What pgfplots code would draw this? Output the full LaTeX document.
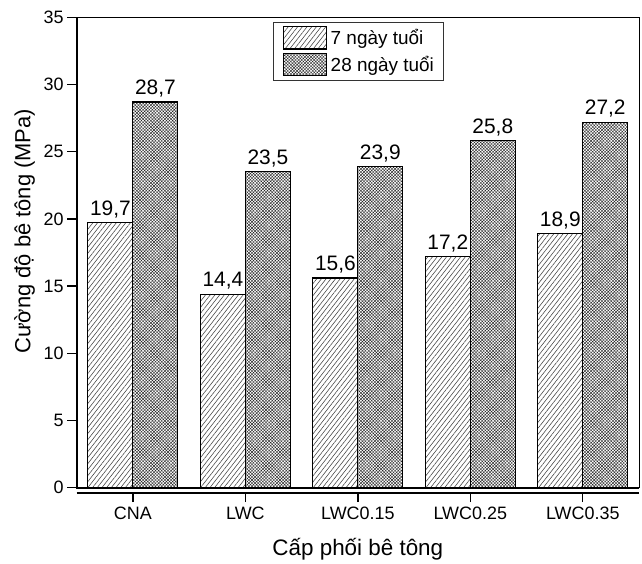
\documentclass[border=0pt]{standalone}
\usepackage{fontspec}
\setmainfont{Liberation Sans}
\usepackage{pgfplots}
\pgfplotsset{compat=1.18}
\usetikzlibrary{patterns.meta}

\begin{document}
\begin{tikzpicture}
\begin{axis}[
  scale only axis, width=562.3bp, height=470.4bp,
  xmin=-0.5, xmax=4.5, ymin=0, ymax=35,
  ybar, bar width=0.4, clip=false,
  axis line style={line width=1bp},
  xtick={0,1,2,3,4},
  xticklabels={CNA,LWC,LWC0.15,LWC0.25,LWC0.35},
  ytick={0,5,...,35},
  tick align=outside, xtick pos=bottom, ytick pos=left,
  major tick length=9.5bp,
  x tick style={yshift=-5bp, line width=1.3bp, black},
  y tick style={line width=1.3bp, black},
  /pgf/number format/assume math mode=true,
  ticklabel style={font=\fontsize{18}{20}\selectfont},
  xticklabel style={yshift=-6bp},
  xlabel={Cấp phối bê tông},
  ylabel={Cường độ bê tông (MPa)},
  xlabel style={font=\fontsize{22.5}{26}\selectfont, at={(rel axis cs:0.5,0)}, anchor=base, yshift=-67.3bp},
  ylabel style={font=\fontsize{22}{26}\selectfont, at={([xshift=-52bp]rel axis cs:0,0.545)}, anchor=center},
  nodes near coords={\pgfmathprintnumber[use comma,fixed,fixed zerofill,precision=1]{\pgfplotspointmeta}},
  every node near coord/.append style={font=\fontsize{21}{24}\selectfont, black, inner sep=4bp},
  legend image code/.code={\draw[#1] (0bp,-11.2bp) rectangle (43bp,11.2bp);},
  legend style={at={(0.3496,0.9906)}, anchor=north west, draw=black!80, line width=0.7bp,
    font=\fontsize{19}{22}\selectfont, inner xsep=9bp, inner ysep=4bp, row sep=3bp,
    nodes={inner sep=0pt, anchor=west},
    /tikz/every odd column/.style={column sep=4bp}},
  legend cell align=left,
]
\addplot[draw=black, line width=1.1bp, bar shift=-0.2,
  pattern={Lines[angle=52, distance=3.7bp, line width=0.55bp]}, pattern color=black!75]
  coordinates {(0,19.7) (1,14.4) (2,15.6) (3,17.2) (4,18.9)};
\addplot[draw=black, line width=1.1bp, bar shift=0.2,
  pattern={Hatch[angle=45, distance=2.2bp, line width=0.4bp]}, pattern color=black!85]
  coordinates {(0,28.7) (1,23.5) (2,23.9) (3,25.8) (4,27.2)};
\legend{7 ngày tuổi, 28 ngày tuổi}
\draw[line width=2bp] (rel axis cs:0,1) -- (rel axis cs:0,0) -- (rel axis cs:1,0);
\draw[line width=1.6bp] ([yshift=-5bp]rel axis cs:0,0) -- ([yshift=-5bp]rel axis cs:1,0);
\coordinate (O) at (rel axis cs:0,0);
\end{axis}
\pgfresetboundingbox
\path ([shift={(-76.7bp,-76.3bp)}]O) rectangle ([shift={(565.3bp,487.7bp)}]O);
\end{tikzpicture}
\end{document}
